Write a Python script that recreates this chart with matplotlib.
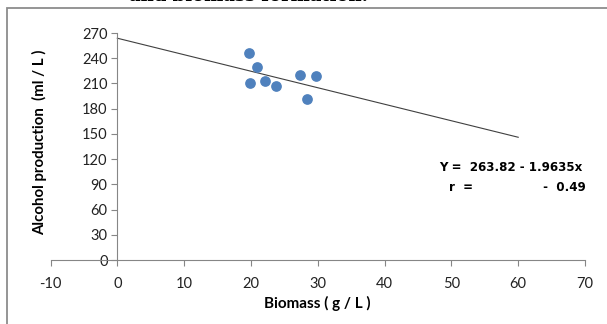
import matplotlib
matplotlib.use("Agg")
import matplotlib.pyplot as plt
from matplotlib.patches import Rectangle

plt.rcParams["axes.unicode_minus"] = False

# Biomass vs alcohol production
biomass = [19.7, 20.9, 19.9, 22.1, 23.7, 27.3, 29.7, 28.4]
alcohol = [246, 230, 211, 213, 207, 220, 219, 192]

# Linear fit
intercept = 263.82
slope = -1.9635
r_value = -0.49
fit_x = [0, 60]

x_ticks = [-10, 0, 10, 20, 30, 40, 50, 60, 70]
y_ticks = [0, 30, 60, 90, 120, 150, 180, 210, 240, 270]

fig = plt.figure(figsize=(6.07, 3.24), dpi=100)
ax = fig.add_axes([0.0832, 0.1975, 0.8806, 0.7006])

# chart frame and cut-off heading
fig.patches.append(Rectangle((7 / 607, -0.1), 1.2, 1.1 - 8 / 324, transform=fig.transFigure,
                             fill=False, edgecolor="#8c8c8c", linewidth=1.3))
fig.text(0.41, 1 - 1 / 324, "and biomass formation.", ha="center", va="baseline",
         family="DejaVu Serif", fontweight="bold", fontsize=13)

ax.plot(biomass, alcohol, "o", color="#4F81BD", markersize=6.7, zorder=3)
fit_y = [intercept + slope * x for x in fit_x]
ax.plot(fit_x, fit_y, color="#404040", linewidth=0.8)

ax.set_xlim(-10, 70)
ax.set_ylim(0, 270)
ax.set_xticks(x_ticks)
ax.set_yticks(y_ticks)

for s in ["top", "right"]:
    ax.spines[s].set_visible(False)
ax.spines["left"].set_position(("data", 0))
ax.spines["left"].set_color("#868686")
ax.spines["bottom"].set_color("#868686")
ax.tick_params(axis="both", colors="#868686", length=4, width=0.8, labelcolor="#222222")
for lab in ax.get_xticklabels() + ax.get_yticklabels():
    lab.set_family("Lato")
    lab.set_fontsize(10.5)
ax.tick_params(axis="x", pad=8)
ax.tick_params(axis="y", pad=3)

ax.set_xlabel("Biomass ( g / L )", family="Lato", fontweight="bold", fontsize=11, labelpad=4)
fig.text(40 / 607, 1 - 142 / 324, "Alcohol production  (ml / L )", rotation=90,
         ha="center", va="center", family="Lato", fontweight="bold", fontsize=10.8)

ax.text(0.727, 0.39, f"Y =  {intercept:.2f} - {abs(slope):.4f}x", transform=ax.transAxes,
        family="DejaVu Sans", fontweight="bold", fontsize=8.6)
ax.text(0.745, 0.305, f"r  =                 -  {abs(r_value):.2f}", transform=ax.transAxes,
        family="DejaVu Sans", fontweight="bold", fontsize=8.6)

fig.savefig("out.png", dpi=100)
